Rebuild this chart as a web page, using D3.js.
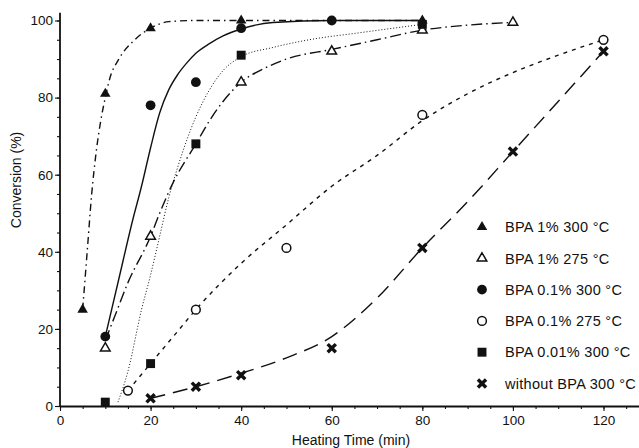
<!DOCTYPE html>
<html>
<head>
<meta charset="utf-8">
<script src="https://cdn.jsdelivr.net/npm/d3@7"></script>
<style>
  body { margin: 0; background: #fff; }
  text { font-family: "Liberation Sans", Arial, Helvetica, sans-serif; fill: #111; }
</style>
</head>
<body>
<div id="chart"></div>
<script>
// measured points
var t_1_300 = [5, 10, 20, 40, 80];
var c_1_300 = [25, 81, 98, 100, 100];
var t_1_275 = [10, 20, 40, 60, 80, 100];
var c_1_275 = [15, 44, 84, 92, 97.5, 99.5];
var t_01_300 = [10, 20, 30, 40, 60];
var c_01_300 = [18, 78, 84, 98, 100];
var t_01_275 = [15, 30, 50, 80, 120];
var c_01_275 = [4, 25, 41, 75.5, 95];
var t_001_300 = [10, 20, 30, 40, 80];
var c_001_300 = [1, 11, 68, 91, 99];
var t_none = [20, 30, 40, 60, 80, 100, 120];
var c_none = [2, 5, 8, 15, 41, 66, 92];

// fitted curves as drawn in the figure
var ft_1_300 = [5, 6, 7, 8, 9, 10, 11, 13, 16.5, 20, 24, 30, 80];
var fc_1_300 = [25, 40, 55, 66, 74, 80, 85, 90, 95, 98, 99.7, 100, 100];
var ft_1_275 = [10, 12, 15, 20, 22, 25, 30, 33, 36, 40, 45, 50, 60, 70, 80, 90, 100];
var fc_1_275 = [17, 23, 32, 44, 50, 58, 68, 74, 79, 84, 87.5, 90, 92.5, 95, 97.5, 98.8, 99.5];
var ft_01_300 = [10, 13, 16, 18, 20, 22, 24, 26, 28, 30, 33, 36, 40, 47, 60, 80];
var fc_01_300 = [18, 33, 48, 57, 67, 76, 82, 86, 89, 91.5, 94, 96, 97.8, 99.5, 100, 100];
var ft_01_275 = [15, 20, 25, 30, 40, 50, 60, 70, 80, 90, 100, 110, 120];
var fc_01_275 = [4, 11, 18, 25, 37, 47, 57, 65, 74, 81, 86.5, 91, 95];
var ft_001_300 = [12.8, 15, 18, 20, 22, 24, 26, 28, 30, 33, 36, 40, 47, 55, 66, 80];
var fc_001_300 = [1, 9, 25, 34, 44, 54, 62, 69, 75, 82, 87, 90.6, 93, 95, 96.8, 99];
var ft_none = [20, 30, 40, 50, 60, 70, 80, 90, 100, 110, 120];
var fc_none = [2, 5, 8.5, 12.5, 18, 28, 41, 53, 66, 79, 92];

var legendLabels = ["BPA 1% 300 °C", "BPA 1% 275 °C", "BPA 0.1% 300 °C",
  "BPA 0.1% 275 °C", "BPA 0.01% 300 °C", "without BPA 300 °C"];
var xTicks = [0, 20, 40, 60, 80, 100, 120];
var yTicks = [0, 20, 40, 60, 80, 100];

var width = 639, height = 448;

var svg = d3.select("#chart").append("svg")
  .attr("width", width)
  .attr("height", height);

svg.append("rect").attr("width", width).attr("height", height).attr("fill", "#fff");

var x = d3.scaleLinear().domain([0, 120]).range([60, 603.5]);
var y = d3.scaleLinear().domain([0, 100]).range([406, 20.5]);

// axes
svg.append("g").attr("transform", "translate(0,406)")
  .call(d3.axisBottom(x).tickValues(d3.range(0, 126, 5)).tickSize(3).tickFormat(""));
svg.append("g").attr("transform", "translate(0,406)")
  .call(d3.axisBottom(x).tickValues(xTicks).tickSize(5).tickPadding(4));
svg.append("g").attr("transform", "translate(60,0)")
  .call(d3.axisLeft(y).tickValues(d3.range(0, 101, 5)).tickSize(3).tickFormat(""));
svg.append("g").attr("transform", "translate(60,0)")
  .call(d3.axisLeft(y).tickValues(yTicks).tickSize(5).tickPadding(2));

svg.selectAll(".domain").remove();
svg.selectAll(".tick line").attr("stroke", "#111").attr("stroke-width", 1.1);
svg.selectAll(".tick text").style("font-size", "13.5px").attr("fill", "#111");

svg.append("line")
  .attr("x1", 60).attr("x2", width)
  .attr("y1", 406.5).attr("y2", 406.5)
  .attr("stroke", "#111").attr("stroke-width", 2);
svg.append("line")
  .attr("x1", 60).attr("x2", 60)
  .attr("y1", 407).attr("y2", y(102))
  .attr("stroke", "#111").attr("stroke-width", 1.8);

svg.append("text")
  .attr("x", 351).attr("y", 445)
  .attr("text-anchor", "middle")
  .style("font-size", "14px")
  .text("Heating Time (min)");

svg.append("text")
  .attr("transform", "translate(21,180) rotate(-90)")
  .attr("text-anchor", "middle")
  .style("font-size", "14px")
  .text("Conversion (%)");

// curves
var line = d3.line()
  .x(function (d) { return x(d[0]) })
  .y(function (d) { return y(d[1]) })
  .curve(d3.curveMonotoneX);

function pairs(ts, cs) {
  return ts.map(function (t, i) { return [t, cs[i]] });
}

var curves = [
  { pts: pairs(ft_1_300, fc_1_300), dash: "7,4,1.5,4" },
  { pts: pairs(ft_1_275, fc_1_275), dash: "11,4,1.5,4" },
  { pts: pairs(ft_01_300, fc_01_300), dash: null },
  { pts: pairs(ft_01_275, fc_01_275), dash: "4,5" },
  { pts: pairs(ft_001_300, fc_001_300), dash: "1,2" },
  { pts: pairs(ft_none, fc_none), dash: "15,8" }
];

svg.selectAll(".fit")
  .data(curves)
  .enter()
  .append("path")
  .attr("class", "fit")
  .attr("d", function (d) { return line(d.pts) })
  .attr("fill", "none")
  .attr("stroke", "#111")
  .attr("stroke-width", function (d) { return d.dash === "1,2" ? 1 : 1.4 })
  .attr("stroke-dasharray", function (d) { return d.dash });

// markers
var symTypes = [d3.symbolTriangle, d3.symbolTriangle, d3.symbolCircle,
  d3.symbolCircle, d3.symbolSquare, d3.symbolX];
var symSizes = [48, 40, 75, 60, 80, 45];
var filled = [true, false, true, false, true, true];

var points = [
  pairs(t_1_300, c_1_300),
  pairs(t_1_275, c_1_275),
  pairs(t_01_300, c_01_300),
  pairs(t_01_275, c_01_275),
  pairs(t_001_300, c_001_300),
  pairs(t_none, c_none)
];

function styleMarker(sel, i) {
  if (i === 5) {
    sel.attr("fill", "none").attr("stroke", "#111").attr("stroke-width", 3.4);
  } else if (filled[i]) {
    sel.attr("fill", "#111").attr("stroke", "none");
  } else {
    sel.attr("fill", "#fff").attr("stroke", "#111").attr("stroke-width", 1.5);
  }
}

points.forEach(function (pts, i) {
  var sym = d3.symbol().type(symTypes[i]).size(symSizes[i]);
  var m = svg.selectAll(".m" + i)
    .data(pts)
    .enter()
    .append("path")
    .attr("class", "m" + i)
    .attr("d", sym)
    .attr("transform", function (d) { return "translate(" + x(d[0]) + "," + y(d[1]) + ")" });
  styleMarker(m, i);
});

// legend
var legend = svg.selectAll(".legend")
  .data(legendLabels)
  .enter()
  .append("g")
  .attr("class", "legend")
  .attr("transform", function (d, i) { return "translate(482," + (227 + i * 31.3) + ")" });

legend.each(function (d, i) {
  var g = d3.select(this);
  var mk = g.append("path")
    .attr("d", d3.symbol().type(symTypes[i]).size(symSizes[i]));
  styleMarker(mk, i);
  g.append("text")
    .attr("x", 23)
    .attr("dy", "0.36em")
    .style("font-size", "14.5px")
    .style("letter-spacing", "0.3px")
    .text(d);
});
</script>
</body>
</html>
